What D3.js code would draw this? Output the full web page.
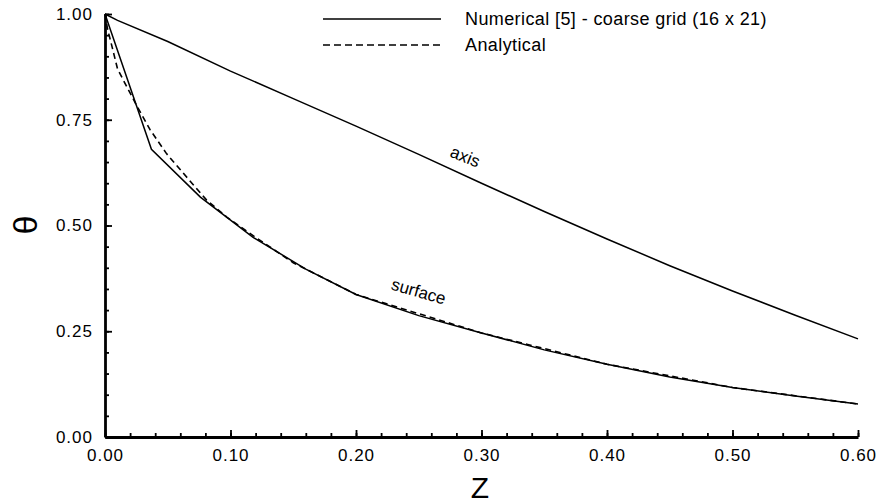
<!DOCTYPE html>
<html>
<head>
<meta charset="utf-8">
<script src="https://cdn.jsdelivr.net/npm/d3@7"></script>
<style>
  body { margin: 0; background: #fff; }
  svg { display: block; }
  text { font-family: "Liberation Sans", Arial, sans-serif; fill: #000; }
</style>
</head>
<body>
<div id="vis"></div>
<script>
const FRAME_WIDTH = 883;
const FRAME_HEIGHT = 503;
const MARGINS = {left: 105, right: 25, top: 14, bottom: 66};

// data
const axisZ = [0, 0.01, 0.05, 0.10, 0.15, 0.20, 0.25, 0.30, 0.35, 0.40, 0.45, 0.50, 0.55, 0.60];
const axisTheta = [1.00, 0.985, 0.935, 0.865, 0.800, 0.735, 0.668, 0.600, 0.533, 0.468, 0.405, 0.345, 0.288, 0.232];

const surfZ = [0, 0.037, 0.076, 0.118, 0.16, 0.20, 0.25, 0.30, 0.35, 0.40, 0.45, 0.50, 0.55, 0.60];
const surfTheta = [1.00, 0.680, 0.567, 0.472, 0.397, 0.337, 0.287, 0.246, 0.206, 0.172, 0.142, 0.117, 0.097, 0.078];

const anaZ = [0, 0.002, 0.005, 0.010, 0.017, 0.025, 0.036, 0.049, 0.062, 0.081, 0.097, 0.12, 0.15, 0.20, 0.30, 0.40, 0.50, 0.60];
const anaTheta = [1.00, 0.965, 0.930, 0.870, 0.830, 0.785, 0.726, 0.670, 0.625, 0.560, 0.520, 0.472, 0.412, 0.337, 0.246, 0.172, 0.117, 0.078];

const xTicks = [0, 0.1, 0.2, 0.3, 0.4, 0.5, 0.6];
const yTicks = [0, 0.25, 0.5, 0.75, 1.0];
const xMinor = d3.range(0, 0.6001, 0.02);
const yMinor = d3.range(0, 1.0001, 0.05);

const legendLabels = ["Numerical [5] - coarse grid (16 x 21)", "Analytical"];

const VIS_WIDTH = FRAME_WIDTH - MARGINS.left - MARGINS.right;
const VIS_HEIGHT = FRAME_HEIGHT - MARGINS.top - MARGINS.bottom;

const FRAME = d3.select("#vis")
  .append("svg")
    .attr("width", FRAME_WIDTH)
    .attr("height", FRAME_HEIGHT);

const X_SCALE = d3.scaleLinear().domain([0, 0.6]).range([MARGINS.left, MARGINS.left + VIS_WIDTH]);
const Y_SCALE = d3.scaleLinear().domain([0, 1]).range([MARGINS.top + VIS_HEIGHT, MARGINS.top]);

// minor ticks (inside)
FRAME.append("g")
  .attr("transform", "translate(0," + (MARGINS.top + VIS_HEIGHT) + ")")
  .call(d3.axisBottom(X_SCALE).tickValues(xMinor).tickSize(-4).tickFormat(""))
  .call(g => g.select(".domain").remove())
  .selectAll("line").attr("stroke-width", 1.8);

FRAME.append("g")
  .attr("transform", "translate(" + MARGINS.left + ",0)")
  .call(d3.axisLeft(Y_SCALE).tickValues(yMinor).tickSize(-4).tickFormat(""))
  .call(g => g.select(".domain").remove())
  .selectAll("line").attr("stroke-width", 1.8);

// major axes
const xAxis = FRAME.append("g")
  .attr("transform", "translate(0," + (MARGINS.top + VIS_HEIGHT) + ")")
  .call(d3.axisBottom(X_SCALE).tickValues(xTicks).tickSizeInner(-7).tickSizeOuter(0)
    .tickPadding(12).tickFormat(d3.format(".2f")));

const yAxis = FRAME.append("g")
  .attr("transform", "translate(" + MARGINS.left + ",0)")
  .call(d3.axisLeft(Y_SCALE).tickValues(yTicks).tickSizeInner(-7).tickSizeOuter(0)
    .tickPadding(12).tickFormat(d3.format(".2f")));

[xAxis, yAxis].forEach(ax => {
  ax.select(".domain").attr("stroke-width", 2.8);
  ax.selectAll(".tick line").attr("stroke-width", 1.8);
  ax.selectAll("text")
    .attr("font-size", "17px")
    .attr("letter-spacing", "1px")
    .attr("font-family", "Liberation Sans, Arial, sans-serif");
});

// curves
const line = d3.line()
  .x(d => X_SCALE(d[0]))
  .y(d => Y_SCALE(d[1]));

FRAME.append("path")
  .datum(anaZ.map((z, i) => [z, anaTheta[i]]))
  .attr("d", line)
  .attr("fill", "none")
  .attr("stroke", "#000")
  .attr("stroke-width", 1.6)
  .attr("stroke-dasharray", "6,4");

FRAME.append("path")
  .datum(axisZ.map((z, i) => [z, axisTheta[i]]))
  .attr("d", line)
  .attr("fill", "none")
  .attr("stroke", "#000")
  .attr("stroke-width", 1.5);

FRAME.append("path")
  .datum(surfZ.map((z, i) => [z, surfTheta[i]]))
  .attr("d", line)
  .attr("fill", "none")
  .attr("stroke", "#000")
  .attr("stroke-width", 1.5);

// curve labels
FRAME.append("text")
  .attr("transform", "translate(463,162) rotate(22)")
  .attr("text-anchor", "middle")
  .style("font-size", "17px")
  .text("axis");

FRAME.append("text")
  .attr("transform", "translate(417,297) rotate(16)")
  .attr("text-anchor", "middle")
  .style("font-size", "17px")
  .text("surface");

// axis titles
FRAME.append("text")
  .attr("x", 480)
  .attr("y", 498)
  .attr("text-anchor", "middle")
  .style("font-size", "30px")
  .text("Z");

FRAME.append("text")
  .attr("transform", "translate(37,225) rotate(-90)")
  .attr("text-anchor", "middle")
  .style("font-size", "34px")
  .text("θ");

// legend
const legend = FRAME.append("g");
legendLabels.forEach((lab, i) => {
  const y = 19 + i * 26;
  legend.append("line")
    .attr("x1", 323).attr("x2", 441)
    .attr("y1", y).attr("y2", y)
    .attr("stroke", "#000")
    .attr("stroke-width", 1.5)
    .attr("stroke-dasharray", i === 0 ? null : "7,4");
  legend.append("text")
    .attr("x", 465)
    .attr("y", y + 6)
    .style("font-size", "18px")
    .attr("letter-spacing", "0.4px")
    .text(lab);
});
</script>
</body>
</html>
